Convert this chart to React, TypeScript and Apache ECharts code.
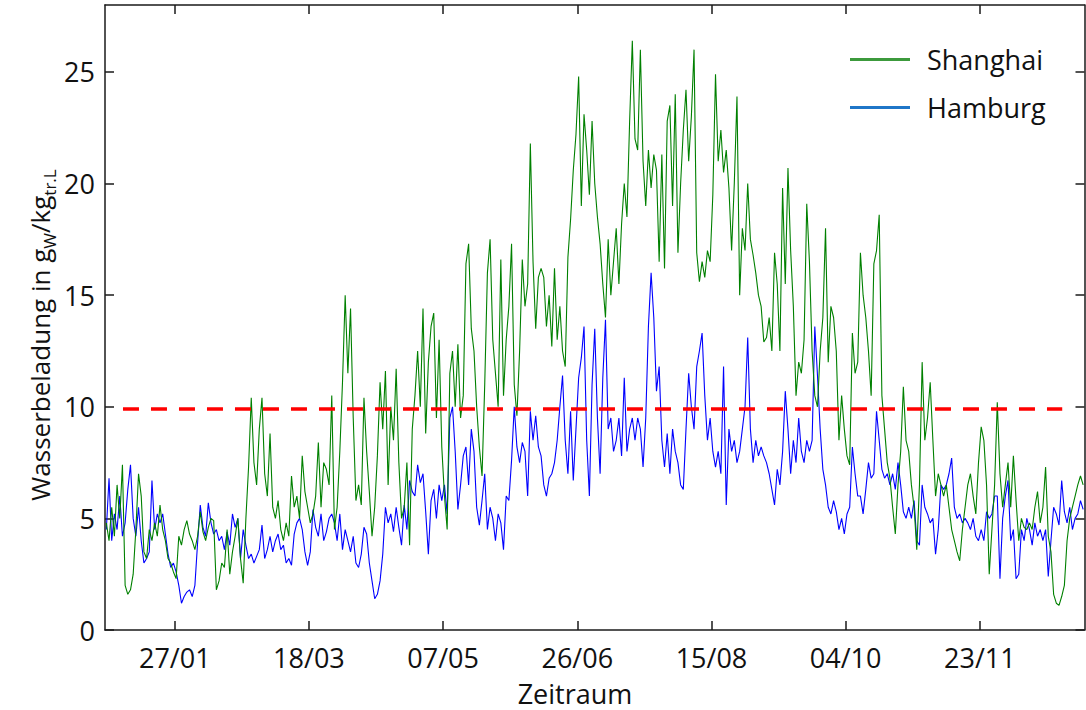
import React, { useEffect, useRef } from "react";
import * as echarts from "echarts";

// ---------- data ----------
const tickLabels = ["27/01", "18/03", "07/05", "26/06", "15/08", "04/10", "23/11"];
const yTickValues = [0, 5, 10, 15, 20, 25];
const seriesNames = ["Shanghai", "Hamburg"];
const daysInYear = 365;

// daily values of water loading (g_W / kg_tr.L), day 0 = 01/01
const shanghai = [
  4.8, 4.0, 5.5, 4.2, 6.5, 5.0, 7.4, 2.0, 1.6, 1.8,
  2.5, 4.5, 7.0, 6.0, 3.5, 3.2, 4.5, 4.0, 4.8, 4.2,
  5.6, 4.5, 4.0, 3.2, 3.0, 2.6, 2.3, 4.2, 3.8, 4.5,
  4.9, 4.3, 4.0, 3.6, 4.2, 5.3, 4.4, 4.0, 4.6, 5.0,
  4.9, 1.8, 2.2, 3.0, 2.8, 4.5, 2.5, 3.5, 4.2, 5.0,
  3.2, 2.1, 5.0, 7.3, 10.4, 7.5, 6.5, 9.0, 10.4, 7.0,
  6.0, 8.8, 5.5, 5.0, 5.8, 4.5, 4.0, 4.8, 4.2, 6.9,
  5.5, 6.0, 5.0, 7.8, 6.2, 5.5, 4.8, 5.2, 6.0, 8.4,
  5.5, 7.5, 7.2, 6.5, 10.5, 4.5, 5.5, 8.0, 11.1, 15.0,
  11.5, 14.4, 9.5, 5.8, 6.5, 5.6, 10.4, 8.0, 6.2, 4.2,
  5.5, 7.8, 11.1, 9.0, 11.6, 6.5, 10.0, 8.5, 11.7, 7.5,
  5.0, 5.5, 7.5, 3.8, 9.0, 10.5, 12.5, 10.0, 14.4, 8.8,
  12.0, 13.6, 14.2, 9.5, 13.0, 8.2, 6.0, 4.5, 11.5, 12.5,
  10.0, 12.8, 9.5, 10.5, 16.4, 17.3, 13.5, 12.5, 10.0, 8.2,
  6.9, 11.0, 16.0, 17.5, 13.0, 11.5, 10.0, 16.6, 10.5, 13.0,
  14.5, 17.3, 11.0, 9.6, 12.5, 16.6, 14.5, 15.5, 21.8, 16.5,
  13.5, 15.8, 16.2, 15.8, 13.6, 15.0, 12.7, 16.2, 13.0, 14.5,
  12.5, 11.8, 16.7, 18.4, 20.6, 22.2, 24.8, 19.0, 23.1, 21.5,
  19.5, 22.8, 20.0, 18.5, 17.3, 15.5, 14.0, 17.5, 15.0, 16.5,
  18.0, 15.5, 18.2, 20.0, 18.5, 22.8, 26.4, 22.0, 21.5, 26.0,
  21.0, 19.0, 21.5, 19.8, 21.3, 20.6, 16.5, 21.3, 16.2, 22.8,
  23.5, 19.0, 24.0, 16.9, 20.0, 22.4, 24.2, 21.0, 23.0, 26.0,
  16.9, 15.6, 16.5, 15.8, 17.0, 16.5, 19.5, 24.9, 21.0, 22.4,
  20.5, 21.5, 19.8, 17.0, 20.0, 23.9, 15.0, 18.0, 17.0, 20.0,
  17.5, 16.8, 16.0, 15.0, 14.5, 12.9, 13.1, 14.0, 12.5, 16.9,
  15.5, 12.5, 19.8, 15.5, 20.7, 17.0, 14.5, 10.5, 12.0, 11.5,
  13.0, 19.1, 16.5, 12.5, 10.5, 10.0, 12.5, 14.0, 18.0, 12.0,
  14.5, 14.0, 12.5, 8.5, 10.5, 9.0, 7.8, 7.4, 13.3, 11.5,
  12.0, 16.9, 15.0, 14.0, 12.5, 10.5, 16.4, 17.0, 18.6, 10.5,
  9.0, 7.5, 6.8, 5.5, 4.3, 6.5, 8.0, 10.9, 8.5, 8.0,
  6.5, 5.5, 3.6, 6.5, 12.0, 8.5, 9.5, 11.1, 8.5, 6.0,
  7.0, 6.5, 6.0, 6.5, 5.5, 4.5, 4.0, 3.5, 3.1, 4.5,
  5.5, 6.5, 7.0, 6.0, 5.2, 7.5, 9.1, 8.5, 6.5, 2.5,
  4.5, 6.5, 10.2, 7.0, 5.5, 6.5, 7.5, 5.5, 7.8, 5.8,
  4.0, 5.0, 4.6, 4.5, 4.8, 4.5, 5.5, 6.2, 4.8, 5.5,
  7.3, 4.2, 3.5, 1.6, 1.2, 1.1, 1.5, 2.0, 4.0, 5.0,
  5.5, 6.0, 6.5, 6.9, 6.5,
];

const hamburg = [
  4.5, 6.8, 4.0, 5.2, 4.5, 6.0, 4.2, 4.8, 6.3, 7.4,
  5.0, 4.2, 5.5, 4.0, 3.0, 3.2, 3.5, 6.7, 4.5, 5.2,
  4.8, 5.2, 4.3, 3.4, 2.8, 3.0, 2.6, 2.0, 1.2, 1.5,
  1.7, 1.8, 1.5, 2.0, 3.9, 5.6, 4.6, 4.2, 5.7, 4.8,
  4.3, 4.5, 4.0, 4.2, 3.6, 4.4, 3.8, 5.2, 4.6, 5.0,
  3.2, 4.5, 3.8, 3.2, 3.4, 3.0, 3.3, 3.6, 4.7, 3.2,
  3.6, 4.2, 3.5, 4.0, 4.3, 3.6, 3.8, 3.0, 3.2, 2.9,
  4.3, 4.8, 5.0, 4.5, 3.5, 2.9, 3.5, 5.4, 4.6, 4.2,
  5.2, 4.0, 4.4, 5.0, 5.2, 4.8, 4.0, 5.2, 3.6, 4.5,
  4.0, 3.5, 4.2, 3.0, 2.8, 3.4, 4.6, 4.3, 3.0, 2.2,
  1.4, 1.6, 2.2, 3.4, 5.5, 4.8, 5.2, 4.4, 5.5, 4.6,
  3.8, 5.6, 4.5, 6.7, 6.2, 6.0, 7.4, 6.6, 7.0, 5.3,
  3.4, 5.8, 6.3, 5.0, 6.5, 5.8, 6.5, 5.2, 9.5, 10.0,
  8.0, 5.4, 6.5, 7.8, 8.2, 6.5, 9.0, 8.0, 5.5, 4.7,
  5.8, 7.0, 4.5, 5.5, 5.0, 4.0, 5.2, 4.8, 3.6, 6.0,
  5.8, 7.6, 10.0, 8.2, 7.5, 8.4, 8.0, 6.0, 9.8, 8.5,
  9.6, 8.2, 7.8, 6.5, 6.0, 6.8, 7.0, 7.5, 8.5, 10.0,
  11.4, 8.5, 7.0, 9.8, 6.7, 9.0, 11.3, 12.2, 13.6, 8.5,
  6.0, 11.0, 13.5, 9.5, 7.0, 11.3, 13.9, 9.0, 9.5, 8.0,
  8.5, 9.5, 7.8, 11.3, 8.0, 9.0, 9.5, 8.5, 9.5, 9.0,
  7.3, 9.5, 13.6, 16.0, 14.0, 10.7, 11.8, 8.5, 7.3, 8.8,
  7.0, 9.0, 8.0, 7.5, 6.5, 6.3, 9.0, 11.5, 10.0, 9.0,
  11.8, 12.5, 13.3, 10.5, 8.5, 9.5, 8.0, 7.3, 8.0, 7.0,
  11.8, 5.6, 9.0, 8.0, 8.5, 7.5, 8.0, 9.0, 10.0, 13.1,
  9.0, 7.5, 8.5, 7.8, 8.2, 7.8, 7.5, 7.0, 6.3, 5.6,
  7.2, 6.5, 8.0, 10.7, 9.0, 7.0, 8.5, 7.5, 9.5, 8.0,
  7.5, 8.5, 8.0, 8.5, 13.6, 11.4, 9.0, 7.2, 6.5, 5.5,
  5.2, 5.8, 5.3, 4.5, 5.0, 4.3, 5.2, 5.5, 8.2, 7.0,
  6.0, 6.0, 5.2, 6.3, 7.5, 6.8, 7.0, 9.8, 8.5, 7.2,
  6.8, 7.0, 6.5, 7.0, 6.3, 7.5, 6.5, 5.3, 5.0, 5.5,
  5.0, 5.8, 4.0, 3.8, 6.5, 5.5, 5.2, 4.8, 5.0, 3.4,
  4.5, 6.5, 6.3, 6.5, 7.0, 7.7, 5.5, 5.0, 5.2, 4.8,
  5.0, 4.8, 4.5, 5.0, 4.2, 4.0, 4.5, 4.0, 5.3, 5.0,
  5.2, 6.0, 6.0, 2.3, 5.0, 6.0, 6.7, 4.0, 4.5, 2.3,
  2.5, 4.5, 4.0, 5.0, 4.5, 3.8, 4.8, 4.2, 4.5, 4.0,
  4.5, 2.4, 4.0, 5.5, 5.2, 4.7, 6.7, 5.3, 4.8, 5.5,
  4.5, 5.0, 5.2, 5.8, 5.4,
];

const thresholdValue = 9.9;
const thresholdStartDay = 6.7;
const thresholdEndDay = 356.7;

// ---------- helpers ----------
const monthStart = [0, 31, 59, 90, 120, 151, 181, 212, 243, 273, 304, 334];
const tickDays = tickLabels.map((l) => {
  const [d, m] = l.split("/").map(Number);
  return monthStart[m - 1] + d - 1;
});

const FONT = "Open Sans";
const AXIS_COLOR = "#1a1a1a";
const TEXT_COLOR = "#111111";

export default function App() {
  const ref = useRef<HTMLDivElement | null>(null);

  useEffect(() => {
    document.body.style.margin = "0";
    if (!ref.current) return;
    const chart = echarts.init(ref.current, undefined, { renderer: "svg" });

    const axisLine = { show: true, onZero: false, lineStyle: { color: AXIS_COLOR, width: 1.5 } };
    const tickStyle = { color: AXIS_COLOR, width: 1.5 };

    const xBase = {
      type: "value",
      min: 0,
      max: daysInYear,
      splitLine: { show: false },
      axisLine,
    };
    const yBase = {
      type: "value",
      min: 0,
      max: 28,
      splitLine: { show: false },
      axisLine,
    };

    chart.setOption({
      animation: false,
      backgroundColor: "#ffffff",
      textStyle: { fontFamily: FONT },
      grid: { left: 105, right: 1.5, top: 5, bottom: 80, containLabel: false },
      xAxis: [
        {
          ...xBase,
          position: "bottom",
          axisTick: { show: true, inside: true, length: 9, customValues: tickDays, lineStyle: tickStyle },
          axisLabel: {
            customValues: tickDays,
            formatter: (v: number) => {
              const i = tickDays.indexOf(Math.round(v));
              return i >= 0 ? tickLabels[i] : "";
            },
            fontSize: 27,
            color: TEXT_COLOR,
            fontFamily: FONT,
            margin: 14,
          },
        },
        {
          ...xBase,
          position: "top",
          axisTick: { show: true, inside: true, length: 9, customValues: tickDays, lineStyle: tickStyle },
          axisLabel: { show: false },
        },
      ],
      yAxis: [
        {
          ...yBase,
          position: "left",
          axisTick: { show: true, inside: true, length: 9, customValues: yTickValues, lineStyle: tickStyle },
          axisLabel: {
            customValues: yTickValues,
            fontSize: 27,
            color: TEXT_COLOR,
            fontFamily: FONT,
            margin: 10,
          },
        },
        {
          ...yBase,
          position: "right",
          axisTick: { show: true, inside: true, length: 9, customValues: yTickValues, lineStyle: tickStyle },
          axisLabel: { show: false },
        },
      ],
      legend: {
        show: true,
        orient: "vertical",
        left: 845,
        top: 41,
        itemWidth: 60,
        itemHeight: 3,
        itemGap: 21,
        icon: "rect",
        textStyle: { fontSize: 27, color: TEXT_COLOR, fontFamily: FONT, padding: [0, 0, 0, 12] },
        data: [
          { name: seriesNames[0], itemStyle: { color: "#3c9a3c" } },
          { name: seriesNames[1], itemStyle: { color: "#1f76c8" } },
        ],
      },
      series: [
        {
          name: seriesNames[1],
          type: "line",
          data: hamburg.map((v, i) => [i + 0.5, v]),
          symbol: "none",
          showSymbol: false,
          lineStyle: { color: "#0000ff", width: 1.1 },
          itemStyle: { color: "#0000ff" },
          z: 2,
        },
        {
          name: seriesNames[0],
          type: "line",
          data: shanghai.map((v, i) => [i + 0.5, v]),
          symbol: "none",
          showSymbol: false,
          lineStyle: { color: "#008000", width: 1.1 },
          itemStyle: { color: "#008000" },
          z: 3,
        },
        {
          name: "Grenzwert",
          type: "line",
          data: [
            [thresholdStartDay, thresholdValue],
            [thresholdEndDay, thresholdValue],
          ],
          symbol: "none",
          showSymbol: false,
          silent: true,
          lineStyle: { color: "#ff0000", width: 3.5, type: [16, 12] },
          itemStyle: { color: "#ff0000" },
          z: 4,
        },
      ],
      graphic: [
        {
          type: "text",
          x: 40,
          y: 335,
          rotation: Math.PI / 2,
          style: {
            text: "Wasserbeladung in g{sub|W}/kg{sub|tr.L}",
            fontSize: 26,
            fontFamily: FONT,
            fill: TEXT_COLOR,
            align: "center",
            verticalAlign: "middle",
            lineHeight: 36,
            rich: {
              sub: {
                fontSize: 17,
                fontFamily: FONT,
                fill: TEXT_COLOR,
                verticalAlign: "bottom",
                lineHeight: 18,
              },
            },
          },
        },
        {
          type: "text",
          x: 575,
          y: 693,
          style: {
            text: "Zeitraum",
            fontSize: 27,
            fontFamily: FONT,
            fill: TEXT_COLOR,
            align: "center",
            verticalAlign: "middle",
          },
        },
      ],
    });

    return () => chart.dispose();
  }, []);

  return (
    <div
      ref={ref}
      style={{ position: "fixed", left: 0, top: 0, width: 1086, height: 710, background: "#fff" }}
    />
  );
}
